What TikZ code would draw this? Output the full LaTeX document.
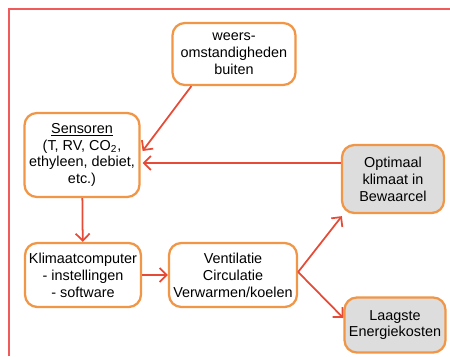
\documentclass[tikz,border=0pt]{standalone}
\usepackage{fontspec}
\setmainfont{Liberation Sans}
\usetikzlibrary{calc,arrows.meta}
\definecolor{rand}{RGB}{240,150,70}
\definecolor{pijl}{RGB}{230,75,55}
\definecolor{kader}{RGB}{240,90,90}
\definecolor{grijs}{RGB}{221,221,221}
\begin{document}
\begin{tikzpicture}[x=0.02cm,y=-0.02cm,>={Straight Barb[length=4pt,width=8pt]},
  blok/.style={draw=rand,line width=1.3pt,rounded corners=7pt,fill=white,align=center,
    font=\fontsize{8.2}{9.6}\selectfont,inner sep=1pt},
  doel/.style={blok,fill=grijs},
  pijlen/.style={->,draw=pijl,line width=1pt}]
\useasboundingbox (0,0) rectangle (450,356);
\draw[kader,line width=0.8pt] (9,356) -- (9,9) -- (450,9);

\node[blok,minimum width=2.46cm,minimum height=1.24cm] (weers) at (234,54) {weers-\\omstandigheden\\buiten};
\node[blok,minimum width=2.3cm,minimum height=1.68cm]  (sens)  at (82,155) {\underline{Sensoren}\\(T, RV, CO\textsubscript{2},\\ethyleen, debiet,\\etc.)};
\node[doel,minimum width=2.04cm,minimum height=1.36cm] (opt)   at (393,179) {Optimaal\\klimaat in\\Bewaarcel};
\node[blok,minimum width=2.32cm,minimum height=1.28cm] (klim)  at (83,275) {Klimaatcomputer\\- instellingen\\- software};
\node[blok,minimum width=2.56cm,minimum height=1.28cm] (vent)  at (233,275) {Ventilatie\\Circulatie\\Verwarmen/koelen};
\node[doel,minimum width=2.02cm,minimum height=1.1cm]  (laag)  at (395,325) {Laagste\\Energiekosten};

\draw[pijlen] ($(weers.south west)+(20,0)$) -- ($(sens.east)+(2,-4)$);
\draw[pijlen] ($(opt.west)+(0,-16)$)        -- ($(sens.east)+(2,8)$);
\draw[pijlen] (sens)  -- (klim);
\draw[pijlen] (klim)  -- (vent);
\draw[pijlen] ($(vent.east)+(0,-3)$) -- ($(opt.south west)+(1,2)$);
\draw[pijlen] ($(vent.east)+(0,-3)$) -- ($(laag.west)+(0,-7)$);
\end{tikzpicture}
\end{document}
